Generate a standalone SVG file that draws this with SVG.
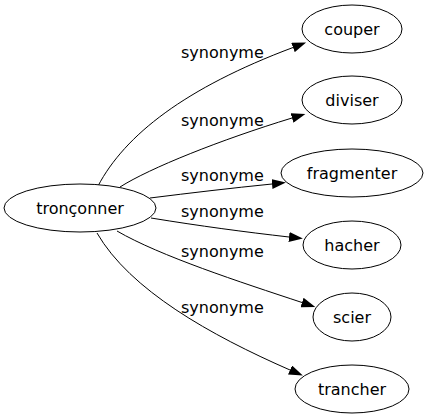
<svg xmlns="http://www.w3.org/2000/svg" width="429" height="419" viewBox="0 0 429 419">
<style>
.node ellipse{fill:#fff;stroke:#000;stroke-width:1}
text{font-family:"DejaVu Sans",sans-serif;font-size:16px;fill:#000}
.node text{text-anchor:middle}
.edge path{fill:none;stroke:#000;stroke-width:1}
</style>
<defs>
<marker id="arr" viewBox="0 0 14 10" refX="0" refY="5" markerWidth="14" markerHeight="10" markerUnits="userSpaceOnUse" orient="auto">
<path d="M0,0 L14,5 L0,10 z" fill="#000"/>
</marker>
</defs>
<rect width="429" height="419" fill="#fff"/>
<g id="connectors" class="edge">
<path d="M98,186 C125,135 185,88 293,47.5" marker-end="url(#arr)"/>
<path d="M120,187 C150,168 220,140 292,118" marker-end="url(#arr)"/>
<path d="M150,198 C190,193 232,188 272,184" marker-end="url(#arr)"/>
<path d="M151,218 C200,226 245,232 289,237" marker-end="url(#arr)"/>
<path d="M117,231 C160,256 240,282 302,302.5" marker-end="url(#arr)"/>
<path d="M97,233 C130,290 210,335 290,370" marker-end="url(#arr)"/>
<text x="181" y="58">synonyme</text>
<text x="181" y="126">synonyme</text>
<text x="181" y="181">synonyme</text>
<text x="181" y="217">synonyme</text>
<text x="181" y="257">synonyme</text>
<text x="181" y="313">synonyme</text>
</g>
<g id="tronconner" class="node"><ellipse cx="80" cy="208" rx="76" ry="24"/><text x="80" y="214">tronçonner</text></g>
<g id="couper" class="node"><ellipse cx="352" cy="29" rx="50" ry="24"/><text x="352" y="35">couper</text></g>
<g id="diviser" class="node"><ellipse cx="352" cy="100" rx="50" ry="24"/><text x="352" y="106">diviser</text></g>
<g id="fragmenter" class="node"><ellipse cx="352" cy="173" rx="71" ry="24"/><text x="352" y="179">fragmenter</text></g>
<g id="hacher" class="node"><ellipse cx="352" cy="245" rx="49" ry="24"/><text x="352" y="251">hacher</text></g>
<g id="scier" class="node"><ellipse cx="352" cy="317" rx="39" ry="24"/><text x="352" y="323">scier</text></g>
<g id="trancher" class="node"><ellipse cx="352" cy="389" rx="57" ry="24"/><text x="352" y="395">trancher</text></g>
</svg>
